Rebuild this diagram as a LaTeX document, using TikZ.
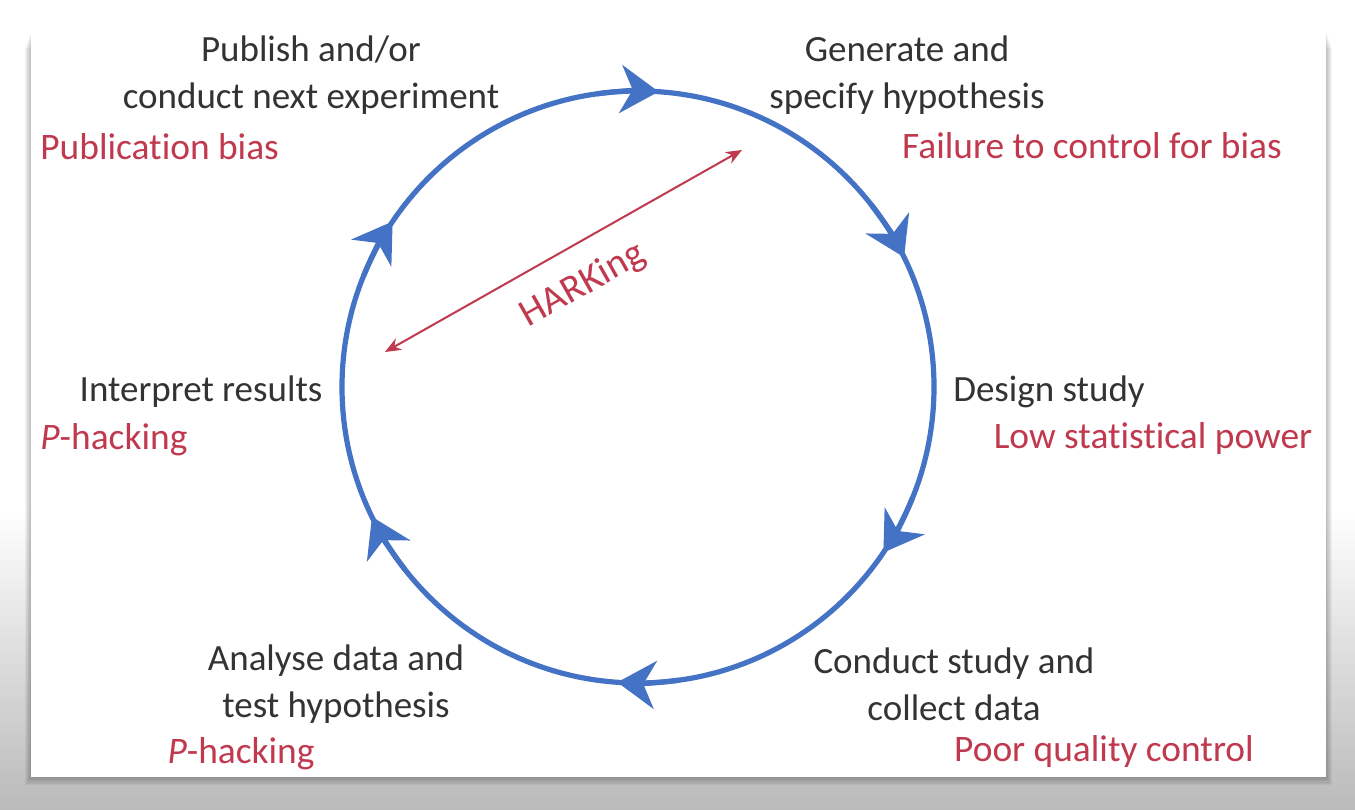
\documentclass[tikz,border=0pt]{standalone}
\usepackage{fontspec}
\setmainfont{Carlito}[Ligatures=NoCommon]
\usetikzlibrary{arrows.meta, calc}
\definecolor{cycleblue}{RGB}{68,114,196}
\definecolor{biasred}{RGB}{192,57,78}
\definecolor{stagegray}{RGB}{51,51,51}

\begin{document}
\begin{tikzpicture}[x=0.5pt, y=0.5pt,
    stage/.style={text=stagegray, align=center, inner sep=0pt, font=\fontsize{18.5}{23.5}\selectfont},
    bias/.style={text=biasred, inner sep=0pt, font=\fontsize{18.7}{23.5}\selectfont},
    loopline/.style={draw=cycleblue, line width=2.6pt},
    looptip/.style={loopline, -{Stealth[length=19pt, width=24pt, inset=6pt]}},
    hark/.style={draw=biasred, line width=1pt, {Stealth[length=8pt, width=6.5pt]}-{Stealth[length=8pt, width=6.5pt]}}
  ]
  \useasboundingbox (0,0) rectangle (1355,809);
  % Background and panel with soft shadow
  \shade[top color=white, middle color=white, bottom color=black!27] (0,0) rectangle (1355,300);
  \foreach \s in {1,...,6}
    \fill[black, opacity=0.045] ({31-\s},{32-1.4*\s}) rectangle ({1326+\s},{779-3*\s});
  \fill[white] (31,32) rectangle (1326,781);

  % Research cycle
  \coordinate (c) at (638,422);
  \draw[loopline] (c) circle (296);
  \foreach \a in {86,26,-34,-94,-154,146}
    \draw[looptip] ($(c)+({\a+12}:296)$) arc[start angle={\a+12}, end angle=\a, radius=296];

  % Stages
  \node[stage] (publish) at (311,734) {Publish and/or\\conduct next experiment};
  \node[stage] (generate) at (907,734) {Generate and\\specify hypothesis};
  \node[stage] (design) at (1049,417) {Design study};
  \node[stage] (conduct) at (954,125) {Conduct study and\\collect data};
  \node[stage] (analyse) at (336,125) {Analyse data and\\test hypothesis};
  \node[stage] (interpret) at (201,417) {Interpret results};

  % Threats
  \node[bias, anchor=west] (pubbias) at (40,662) {Publication bias};
  \node[bias] (failure) at (1092,663) {Failure to control for bias};
  \node[bias] (lowpower) at (1153,370) {Low statistical power};
  \node[bias] (poorqc) at (1104,57) {Poor quality control};
  \node[bias] (phackb) at (241,55) {\textit{P}-hacking};
  \node[bias, anchor=west] (phacka) at (40,369) {\textit{P}-hacking};

  % HARKing
  \coordinate (harka) at (385,457);
  \coordinate (harkb) at (742,659);
  \draw[hark] (harka) -- node[bias, pos=0.5, sloped, anchor=north, inner sep=11pt, font=\fontsize{19.5}{23.5}\selectfont] (harking) {HARKing} (harkb);
\end{tikzpicture}
\end{document}
